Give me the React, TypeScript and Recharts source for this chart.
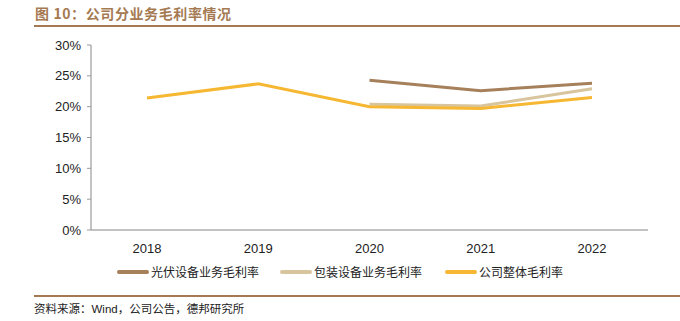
import React from 'react';
import { LineChart, Line, XAxis, YAxis } from 'recharts';

const years = ['2018', '2019', '2020', '2021', '2022'];
const pvMargin = [null, null, 24.3, 22.6, 23.8];
const packMargin = [null, null, 20.4, 20.1, 22.9];
const totalMargin = [21.4, 23.7, 20.0, 19.7, 21.5];
const yTicks = [0, 5, 10, 15, 20, 25, 30];

const SERIES = [
  { key: 'pv', name: '光伏设备业务毛利率', color: '#A67F5B', values: pvMargin },
  { key: 'pack', name: '包装设备业务毛利率', color: '#D8C59D', values: packMargin },
  { key: 'total', name: '公司整体毛利率', color: '#F6B732', values: totalMargin },
];

const data = years.map((year, i) => {
  const row: any = { year };
  SERIES.forEach((s) => {
    row[s.key] = s.values[i];
  });
  return row;
});

const BROWN = '#A57A52';
const legendX = [117, 280, 445];

export default function App() {
  return (
    <div
      style={{
        position: 'absolute',
        left: 0,
        top: 0,
        width: 680,
        height: 321,
        background: '#fff',
        fontFamily: '"Liberation Sans", Arial, sans-serif',
      }}
    >
      {/* Title */}
      <div
        style={{
          position: 'absolute',
          left: 35,
          top: 4,
          fontSize: 14,
          fontWeight: 'bold',
          color: BROWN,
          fontFamily: '"Noto Sans CJK SC", sans-serif',
          lineHeight: '18px',
          letterSpacing: 0.6,
        }}
      >
        图 10：公司分业务毛利率情况
      </div>
      <div style={{ position: 'absolute', left: 34, top: 25, width: 646, height: 2, background: BROWN }} />

      <LineChart
        width={680}
        height={321}
        data={data}
        margin={{ top: 45, right: 32, bottom: 61, left: 0 }}
        style={{ position: 'absolute', left: 0, top: 0 }}
      >
        <XAxis
          dataKey="year"
          tickLine={false}
          axisLine={{ stroke: '#888' }}
          tick={{ fill: '#222', fontSize: 13 }}
          tickMargin={8}
          height={30}
          padding={{ left: 56, right: 56 }}
        />
        <YAxis
          domain={[0, 30]}
          ticks={yTicks}
          interval={0}
          width={91}
          tickFormatter={(v) => `${v}%`}
          tickSize={4}
          tickMargin={6}
          tickLine={{ stroke: '#999' }}
          axisLine={{ stroke: '#888' }}
          tick={{ fill: '#222', fontSize: 13 }}
        />
        {SERIES.map((s) => (
          <Line
            key={s.key}
            dataKey={s.key}
            name={s.name}
            stroke={s.color}
            strokeWidth={3}
            dot={false}
            connectNulls={false}
            isAnimationActive={false}
          />
        ))}
      </LineChart>

      {/* Legend */}
      {SERIES.map((s, i) => (
        <div
          key={s.key}
          style={{
            position: 'absolute',
            left: legendX[i],
            top: 263,
            display: 'flex',
            alignItems: 'center',
            fontSize: 12,
            color: '#222',
            fontFamily: '"Noto Sans CJK SC", sans-serif',
            lineHeight: '18px',
          }}
        >
          <span style={{ display: 'inline-block', width: 32, height: 4, borderRadius: 2, background: s.color, marginRight: 2 }} />
          <span>{s.name}</span>
        </div>
      ))}

      <div style={{ position: 'absolute', left: 34, top: 295, width: 646, height: 2, background: BROWN }} />
      <div
        style={{
          position: 'absolute',
          left: 34,
          top: 301,
          fontSize: 11.5,
          color: '#222',
          fontFamily: '"Liberation Sans", "Noto Sans CJK SC", sans-serif',
          lineHeight: '16px',
        }}
      >
        资料来源：Wind，公司公告，德邦研究所
      </div>
    </div>
  );
}
